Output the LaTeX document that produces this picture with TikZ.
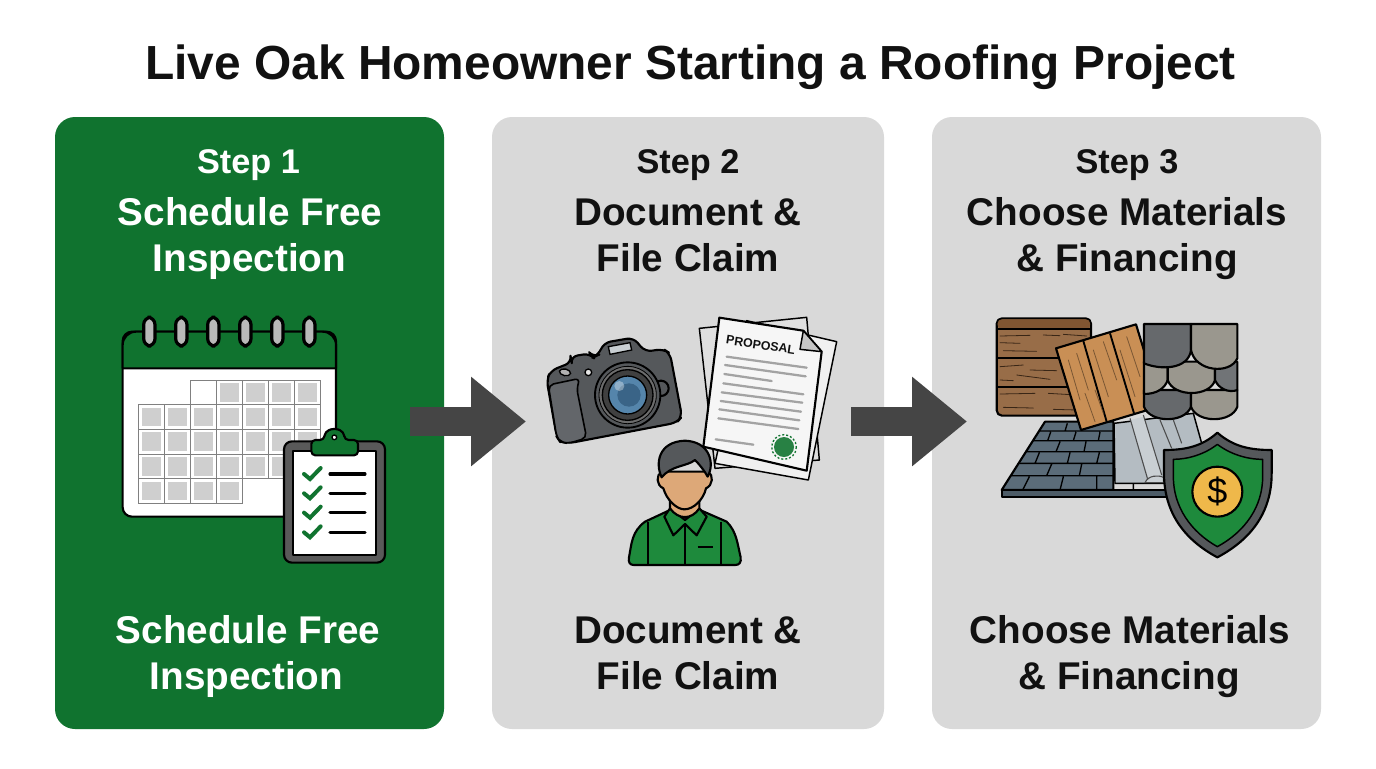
\documentclass[tikz,border=0pt]{standalone}
\usepackage{fontspec}
\setmainfont{Liberation Sans}
\usetikzlibrary{arrows.meta}
\definecolor{pgreen}{HTML}{10732F}
\definecolor{pgray}{HTML}{D9D9D9}
\definecolor{ink}{HTML}{111111}
\definecolor{shirt}{HTML}{1E8A3C}
\definecolor{arrowgray}{HTML}{454545}
\definecolor{cellgray}{HTML}{CFCFCF}
\definecolor{slate}{HTML}{5B6C79}
\definecolor{tileA}{HTML}{66696C}
\definecolor{tileB}{HTML}{9A978E}
\definecolor{tileC}{HTML}{717477}
\definecolor{woodA}{HTML}{8F6038}
\definecolor{woodB}{HTML}{C98F55}
\definecolor{skin}{HTML}{DDA878}
\definecolor{glassA}{HTML}{5585AB}
\definecolor{glassB}{HTML}{3A6487}
\definecolor{flashA}{HTML}{B4BCC2}
\definecolor{flashB}{HTML}{C9CFD3}
\definecolor{coin}{HTML}{EFB84A}
\definecolor{camera}{HTML}{55585B}
\definecolor{grip}{HTML}{63666A}
\definecolor{ruleg}{HTML}{A3A3A3}
\tikzset{
  x=0.75pt,y=-0.75pt,
  panel/.style={rounded corners=15pt,line width=0pt},
  titletext/.style={font=\fontsize{35.9pt}{40pt}\selectfont\bfseries,text=ink,anchor=base,inner sep=0pt},
  steptext/.style={font=\fontsize{25.7pt}{30pt}\selectfont\bfseries,anchor=base,inner sep=0pt},
  headtext/.style={font=\fontsize{29pt}{34pt}\selectfont\bfseries,anchor=base,inner sep=0pt},
  blockarrow/.style={draw=arrowgray,line width=21.75pt,-{Triangle[length=41.25pt,width=64.5pt,fill=arrowgray]}},
  zoomed/.style={x=0.25pt,y=-0.25pt},
  ol/.style={draw=black,line width=1.6pt,line join=round},
  thin ol/.style={draw=black,line width=1.1pt,line join=round},
  grain/.style={draw=#1,line width=0.6pt,line cap=round},
  grayline/.style={draw=ruleg,line width=1.7pt,line cap=round},
  checkmark/.style={draw=pgreen,line width=3pt,line cap=round,line join=miter},
  listline/.style={draw=black,line width=2.3pt,line cap=round},
}
\begin{document}
\begin{tikzpicture}
\useasboundingbox (0,0) rectangle (1376,768);
\fill[white] (0,0) rectangle (1376,768);
% panels
\fill[pgreen,panel] (55,117) rectangle (444,729);
\fill[pgray,panel] (492,117) rectangle (884,729);
\fill[pgray,panel] (932,117) rectangle (1321,729);
% title
\node[titletext] (title) at (690.5,79) {Live Oak Homeowner Starting a Roofing Project};
% panel texts
\node[steptext,text=white] (s1) at (248.5,173) {Step 1};
\node[headtext,text=white] (h1a) at (250,225) {Schedule Free};
\node[headtext,text=white] (h1b) at (249.5,271) {Inspection};
\node[headtext,text=white] (f1a) at (248,643) {Schedule Free};
\node[headtext,text=white] (f1b) at (246.5,689) {Inspection};
\node[steptext,text=ink] (s2) at (688,173) {Step 2};
\node[headtext,text=ink] (h2a) at (688,225) {Document \&};
\node[headtext,text=ink] (h2b) at (688,271) {File Claim};
\node[headtext,text=ink] (f2a) at (688,643) {Document \&};
\node[headtext,text=ink] (f2b) at (688,689) {File Claim};
\node[steptext,text=ink] (s3) at (1127,173) {Step 3};
\node[headtext,text=ink] (h3a) at (1127,225) {Choose Materials};
\node[headtext,text=ink] (h3b) at (1127,271) {\& Financing};
\node[headtext,text=ink] (f3a) at (1130,643) {Choose Materials};
\node[headtext,text=ink] (f3b) at (1129,689) {\& Financing};
% arrows
\coordinate (a1s) at (410,421.5);
\coordinate (a1e) at (526,421.5);
\coordinate (a2s) at (851,421.5);
\coordinate (a2e) at (967,421.5);
\draw[blockarrow] (a1s) -- (a1e);
\draw[blockarrow] (a2s) -- (a2e);

% ---------- calendar + clipboard (crop origin 100,300)
\begin{scope}[shift={(100,300)},zoomed]
  \path[ol,fill=white,rounded corners=7pt] (68,95) rectangle (708,650);
  \path[fill=pgreen] (68,205) -- (68,135) arc (180:270:40) -- (668,95) arc (270:360:40) -- (708,205) -- cycle;
  \path[ol] (68,205) -- (68,135) arc (180:270:40) -- (668,95) arc (270:360:40) -- (708,205) -- cycle;
  \foreach \cx in {148,244,340,436,532,628}{
    \path[draw=black,line width=2.4pt,fill=gray!55,rounded corners=5.5pt] (\cx-17,52) rectangle (\cx+17,138);
  }
  \foreach \r/\cs in {0/{3,4,5,6},1/{0,1,2,3,4,5,6},2/{0,1,2,3,4,5,6},3/{0,1,2,3,4,5,6},4/{0,1,2,3}}{
    \foreach \c in \cs {
      \path[draw=gray,line width=0.7pt] ({116+78*\c},{240+74*\r}) rectangle ({194+78*\c},{314+74*\r});
      \fill[cellgray] ({116+78*\c+10},{240+74*\r+9}) rectangle ({194+78*\c-10},{314+74*\r-9});
    }
  }
  \path[draw=gray,line width=0.7pt] (272,240) rectangle (350,314);
  % clipboard
  \path[ol,fill=black!65,rounded corners=6pt] (552,424) rectangle (855,788);
  \path[ol,fill=white] (580,453) rectangle (828,765);
  \path[ol,fill=pgreen,rounded corners=3pt] (634,466) -- (634,420) -- (672,420) -- (675,395) -- (703,384) -- (731,395) -- (734,420) -- (774,420) -- (774,466) -- cycle;
  \path[draw=black,line width=1pt,fill=white] (703,412) circle (7);
  \foreach \yy in {522,580,638,697}{
    \draw[checkmark] (612,\yy) -- (630,{\yy+15}) -- (662,{\yy-18});
    \draw[listline] (690,\yy) -- (795,\yy);
  }
\end{scope}

% ---------- documents + camera + person (crop origin 530,300)
\begin{scope}[shift={(530,300)},zoomed]
  % camera
  \path[ol,fill=camera,rounded corners=5pt] (50,240) -- (62,212) -- (125,187) -- (122,170) -- (180,160) -- (190,172) -- (205,165) -- (222,128) -- (310,113) -- (345,155) -- (400,147) -- (420,160) -- (456,350) -- (440,368) -- (115,430) -- (90,425) -- (80,410) -- cycle;
  \path[draw=black,line width=1.2pt,fill=grip,rounded corners=4pt] (55,255) -- (150,235) -- (140,265) -- (170,414) -- (115,430) -- (90,425) -- (80,410) -- cycle;
  \path[draw=black,line width=1pt,fill=flashB] (235,140) -- (300,128) -- (305,150) -- (240,163) -- cycle;
  \path[draw=black,line width=1pt,fill=gray!60,rotate around={-12:(105,217)}] (105,217) ellipse (17 and 10);
  \path[draw=black,line width=1pt,fill=gray!20] (175,217) circle (10);
  \path[ol,fill=camera] (393,265) circle (23);
  \path[draw=black,line width=1.4pt,fill=camera] (293,285) circle (98);
  \path[draw=black,line width=0.6pt,fill=gray!85!black] (293,285) circle (86);
  \path[draw=black,line width=1pt,fill=black!75] (293,285) circle (76);
  \path[draw=black,line width=1pt,fill=glassA] (293,285) circle (57);
  \fill[glassB] (297,285) circle (35);
  \fill[white,opacity=.35] (268,258) circle (15);
  % papers
  \path[thin ol,fill=gray!25] (508,85) -- (830,52) -- (868,480) -- (555,505) -- cycle;
  \path[thin ol,fill=gray!12] (650,62) -- (920,125) -- (835,540) -- (555,490) -- cycle;
  \path[ol,fill=gray!7] (568,53) -- (820,92) -- (875,155) -- (830,512) -- (520,440) -- cycle;
  \path[thin ol,fill=gray!45] (820,92) -- (810,148) -- (875,155) -- cycle;
  \node[font=\fontsize{9.3pt}{12pt}\selectfont\bfseries,text=ink,rotate=-8.7,inner sep=0pt] (prop) at (692,135) {PROPOSAL};
  \foreach \xa/\ya/\xb/\yb in {590/170/830/203,585/195/827/229,583/222/725/243,580/250/820/283,575/277/817/308,572/303/813/335,568/328/808/361,565/355/805/387,557/418/670/434}{
    \draw[grayline] (\xa,\ya) -- (\xb,\yb);
  }
  \fill[pgreen!90!white] (762,441) circle (30);
  \draw[pgreen,line width=1pt,dash pattern=on 1.5pt off 1.5pt] (762,441) circle (37);
  % person
  \path[ol,fill=shirt] (297,772) .. controls (305,730) and (305,695) .. (345,665) -- (420,630) -- (510,630) -- (590,665) .. controls (620,695) and (622,730) .. (632,772) .. controls (634,788) and (628,795) .. (615,795) -- (312,795) .. controls (300,795) and (294,788) .. (297,772) -- cycle;
  \path[ol,fill=shirt] (420,625) -- (403,650) -- (430,706) -- (465,672) -- (500,706) -- (530,650) -- (508,625) -- (465,660) -- cycle;
  \draw[ol] (355,665) -- (355,792) (573,665) -- (573,792) (465,672) -- (465,792);
  \draw[draw=black,line width=1.7pt] (503,740) -- (550,740);
  \path[ol,fill=skin] (420,590) -- (420,625) .. controls (445,660) and (485,660) .. (508,625) -- (508,590) -- cycle;
  \path[ol,fill=skin] (395,515) .. controls (378,525) and (378,555) .. (400,565) .. controls (410,600) and (440,628) .. (463,628) .. controls (490,628) and (520,600) .. (528,565) .. controls (550,555) and (550,525) .. (535,515) -- cycle;
  \path[ol,fill=camera] (395,532) .. controls (375,490) and (385,425) .. (465,422) .. controls (540,425) and (555,490) .. (533,530) .. controls (525,515) and (510,495) .. (495,480) .. controls (470,500) and (425,495) .. (395,532) -- cycle;
\end{scope}

% ---------- materials (crop origin 980,300)
\begin{scope}[shift={(980,300)},zoomed]
  % roof
  \path[ol,fill=slate] (195,365) -- (400,365) -- (400,570) -- (65,570) -- cycle;
  \path[ol,fill=slate!85!black] (65,570) -- (560,570) -- (560,592) -- (65,592) -- cycle;
  \draw[draw=black,line width=1pt]
    (178,393) -- (400,393) (160,422) -- (400,422) (140,455) -- (400,455) (118,490) -- (400,490) (95,527) -- (400,527)
    (262,370) -- (255,393) (212,396) -- (203,422) (288,396) -- (280,422) (360,396) -- (355,422)
    (240,425) -- (228,455) (318,425) -- (312,455) (178,458) -- (165,490) (270,458) -- (262,490) (358,458) -- (350,490)
    (215,492) -- (200,527) (305,492) -- (298,527) (148,530) -- (128,570) (250,530) -- (240,570) (350,530) -- (350,570) (460,550) -- (460,570);
  % flashing
  \path[thin ol,fill=flashA] (402,370) -- (640,340) -- (665,430) -- (550,550) -- (405,550) -- cycle;
  \fill[flashB] (452,360) -- (490,350) -- (545,525) -- (505,535) -- cycle;
  \draw[draw=black!70,line width=0.8pt] (450,355) -- (505,545) (490,345) -- (545,525) (540,360) -- (575,445) (580,360) -- (605,430);
  \draw[draw=black!70,line width=0.8pt,fill=flashB] (495,548) .. controls (505,525) and (535,525) .. (550,532) -- (550,548) -- cycle;
  % wood panel
  \path[ol,fill=woodA!92!white,rounded corners=4pt] (50,55) rectangle (333,347);
  \fill[woodA!90!black,rounded corners=3pt] (53,58) rectangle (330,87);
  \draw[draw=black,line width=1.4pt] (50,88) -- (333,88) (50,175) -- (333,175) (50,262) -- (333,262);
  \foreach \xa/\ya/\xb/\yb in {60/108/150/106,190/105/240/107,250/103/320/108,60/128/120/130,70/152/170/154,230/155/300/150,60/200/130/195,110/225/210/238,60/240/100/242,150/210/230/212,60/282/165/280,205/280/290/285,70/322/160/324,220/328/290/330}{
    \draw[grain=black!60!woodA] (\xa,\ya) -- (\xb,\yb);
  }
  % tilted plank
  \path[ol,fill=woodB] (228,145) -- (468,73) -- (543,318) -- (303,390) -- cycle;
  \draw[draw=black,line width=1.4pt] (310,123) -- (380,365) (390,100) -- (462,340);
  \foreach \xa/\ya/\xb/\yb in {265/180/300/300,290/160/325/270,315/280/345/365,340/150/385/290,370/125/410/240,420/150/465/290,440/110/480/230,345/270/370/340}{
    \draw[grain=black!40!woodB] (\xa,\ya) -- (\xb,\yb);
  }
  % shingles: bottom row
  \path[ol,fill=tileA] (492,270) -- (492,320) .. controls (510,370) and (615,370) .. (633,320) -- (633,270) -- cycle;
  \path[ol,fill=tileB] (633,270) -- (633,320) .. controls (650,370) and (755,370) .. (772,320) -- (772,270) -- cycle;
  % middle row
  \path[ol,fill=tileB] (492,185) -- (492,282) .. controls (530,282) and (555,265) .. (563,240) -- (563,185) -- cycle;
  \path[ol,fill=tileB] (563,185) -- (563,240) .. controls (580,292) and (690,292) .. (705,240) -- (705,185) -- cycle;
  \path[ol,fill=tileC] (705,185) -- (705,240) .. controls (715,265) and (745,280) .. (772,270) -- (772,185) -- cycle;
  % top row
  \path[ol,fill=tileA] (492,72) -- (492,190) .. controls (540,210) and (625,210) .. (633,150) -- (633,72) -- cycle;
  \path[ol,fill=tileB] (633,72) -- (633,150) .. controls (645,215) and (750,225) .. (772,175) -- (772,72) -- cycle;
  % shield
  \path[ol,fill=camera] (712,398) .. controls (760,440) and (810,450) .. (875,450) -- (875,520) .. controls (875,640) and (810,720) .. (712,772) .. controls (615,720) and (552,640) .. (552,520) -- (552,450) .. controls (615,450) and (665,440) .. (712,398) -- cycle;
  \path[thin ol,fill=shirt] (712,433) .. controls (750,462) and (800,478) .. (848,478) -- (848,530) .. controls (848,620) and (795,695) .. (712,740) .. controls (632,695) and (580,620) .. (580,530) -- (580,478) .. controls (625,478) and (675,462) .. (712,433) -- cycle;
  \path[ol,fill=coin] (712,575) circle (75);
  \node[font=\fontsize{27pt}{30pt}\selectfont,text=black,inner sep=0pt] (dollar) at (712,575) {\$};
\end{scope}
\end{tikzpicture}
\end{document}
